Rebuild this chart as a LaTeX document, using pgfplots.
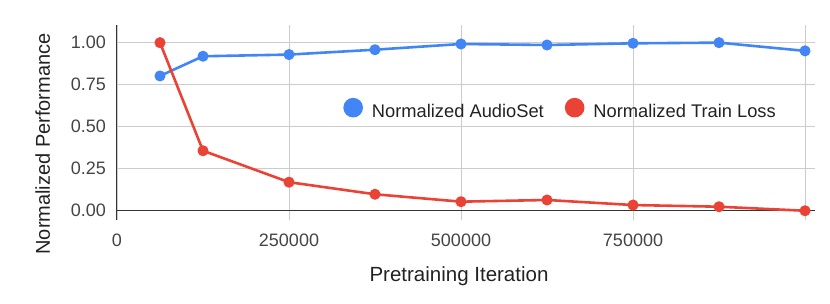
\documentclass[border=0pt]{standalone}
\usepackage{pgfplots}
\pgfplotsset{compat=1.18}
\usepackage{fontspec}
\setmainfont{Liberation Sans}
\definecolor{gblue}{HTML}{4285F4}
\definecolor{gred}{HTML}{EA4335}
\definecolor{gridc}{HTML}{CCCCCC}
\definecolor{axc}{HTML}{333333}
\definecolor{tickc}{HTML}{444444}
\definecolor{titlec}{HTML}{222222}
\begin{document}
\begin{tikzpicture}
\useasboundingbox (-117pt,-84pt) rectangle (713pt,220pt);
\begin{axis}[
  at={(0pt,0pt)}, anchor=south west,
  scale only axis, width=698pt, height=195pt,
  xmin=0, xmax=1014500, ymin=-0.055, ymax=1.105,
  clip=false,
  axis y line*=left, axis x line*=bottom,
  x axis line style={draw=none},
  y axis line style={-, draw=axc, line width=1pt},
  scaled ticks=false,
  xtick={0,250000,500000,750000,1000000},
  xticklabels={0,250000,500000,750000,{}},
  ytick={0.25,0.5,0.75,1},
  yticklabels={0.25,0.50,0.75,1.00},
  extra y ticks={0}, extra y tick labels={0.00},
  extra y tick style={grid style={draw=axc, line width=1pt}},
  xmajorgrids, ymajorgrids,
  grid style={draw=gridc, line width=0.8pt},
  major tick length=0pt,
  tick label style={font=\fontsize{18}{20}\selectfont, text=tickc},
  xticklabel style={anchor=base, yshift=-27pt, inner sep=0pt},
  yticklabel style={anchor=east, xshift=-11pt, inner sep=0pt},
  xlabel={Pretraining Iteration},
  xlabel style={at={(axis description cs:0.49,-0.316)}, anchor=base, font=\fontsize{20.5}{24}\selectfont, text=titlec, inner sep=0pt},
  ylabel={Normalized Performance},
  ylabel style={at={(axis description cs:-0.096,0.39)}, anchor=base, font=\fontsize{20}{24}\selectfont, text=titlec, inner sep=0pt},
  legend style={at={(axis description cs:0.324,0.573)}, anchor=west, draw=none, fill=none, inner sep=0pt,
    font=\fontsize{18.3}{20}\selectfont, text=titlec, nodes={inner sep=0pt},
    /tikz/every odd column/.append style={column sep=9pt},
    /tikz/every even column/.append style={column sep=21pt}},
  legend columns=2,
  legend image code/.code={\fill[#1] (0pt,0.36em) circle (8.5pt);},
]
\addplot[color=gblue, line width=2.6pt, line join=round, mark=*, mark size=4.2pt, mark options={draw=none, fill=gblue}]
coordinates {(62500,0.802)(125000,0.919)(250000,0.929)(375000,0.958)(500000,0.992)(625000,0.986)(750000,0.996)(875000,1.0)(1000000,0.951)};
\addlegendentry{Normalized AudioSet}
\addplot[color=gred, line width=2.6pt, line join=round, mark=*, mark size=4.2pt, mark options={draw=none, fill=gred}]
coordinates {(62500,1.0)(125000,0.357)(250000,0.17)(375000,0.098)(500000,0.054)(625000,0.064)(750000,0.034)(875000,0.024)(1000000,0.0)};
\addlegendentry{Normalized Train Loss}
\end{axis}
\end{tikzpicture}
\end{document}
